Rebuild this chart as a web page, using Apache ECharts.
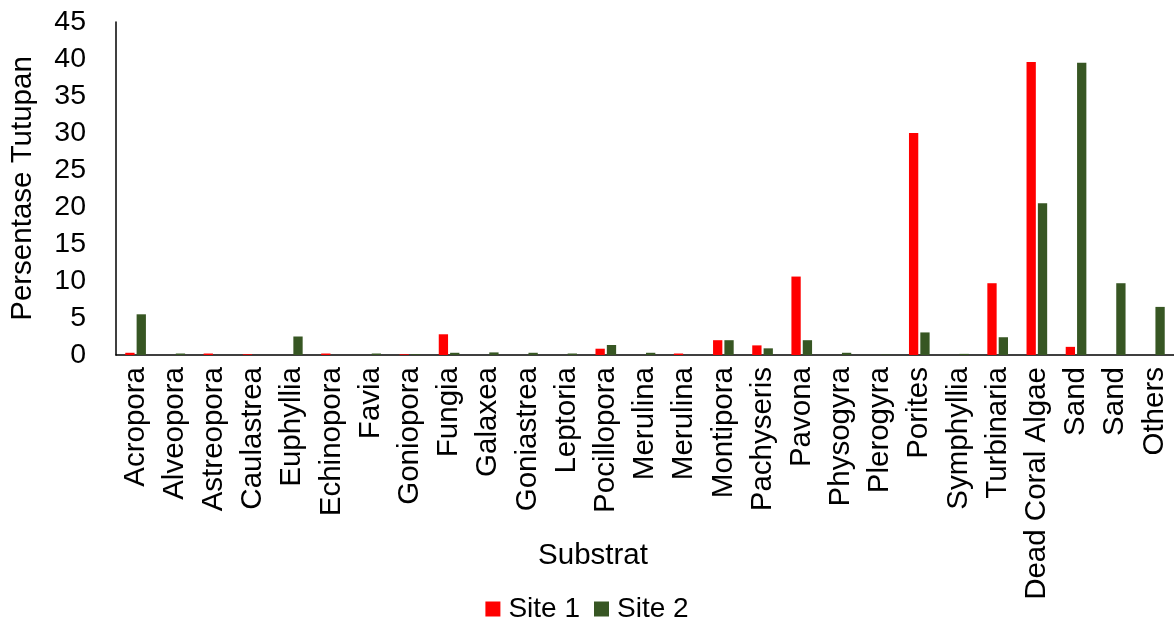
<!DOCTYPE html>
<html>
<head>
<meta charset="utf-8">
<script src="https://cdn.jsdelivr.net/npm/echarts@6/dist/echarts.min.js"></script>
<style>
  html, body { margin: 0; padding: 0; background: #fff; }
  #chart { width: 1174px; height: 619px; }
</style>
</head>
<body>
<div id="chart"></div>
<script>
// Substrate categories along the x axis
const categories = ['Acropora', 'Alveopora', 'Astreopora', 'Caulastrea', 'Euphyllia', 'Echinopora',
  'Favia', 'Goniopora', 'Fungia', 'Galaxea', 'Goniastrea', 'Leptoria', 'Pocillopora', 'Merulina',
  'Merulina', 'Montipora', 'Pachyseris', 'Pavona', 'Physogyra', 'Plerogyra', 'Porites', 'Symphyllia',
  'Turbinaria', 'Dead Coral Algae', 'Sand', 'Sand', 'Others'];

// Percent cover per substrate
const site1 = [0.3, 0, 0.2, 0.1, 0, 0.2, 0, 0.1, 2.8, 0, 0, 0, 0.85, 0, 0.2, 2.0, 1.3, 10.6, 0, 0,
  30, 0, 9.7, 39.6, 1.1, 0, 0];
const site2 = [5.5, 0.2, 0, 0, 2.5, 0, 0.2, 0.1, 0.3, 0.35, 0.3, 0.2, 1.35, 0.3, 0, 2.0, 0.9, 2.0, 0.3,
  0.05, 3.05, 0.15, 2.4, 20.5, 39.5, 9.7, 6.5];

const seriesNames = ['Site 1', 'Site 2'];
const yTicks = { min: 0, max: 45, step: 5 };

const font = 'Liberation Sans, Arial, sans-serif';
const fontSize = 29.5;
const textColor = '#000';

const chart = echarts.init(document.getElementById('chart'), null, { renderer: 'canvas' });

chart.setOption({
  animation: false,
  backgroundColor: '#fff',
  textStyle: { fontFamily: font },
  title: {
    text: 'Substrat',
    left: 588,
    top: 536,
    textAlign: 'center',
    textStyle: { fontFamily: font, fontSize: fontSize, fontWeight: 'normal', color: textColor }
  },
  legend: {
    data: seriesNames,
    left: 'center',
    top: 590,
    itemWidth: 15,
    itemHeight: 15,
    itemGap: 14,
    icon: 'rect',
    textStyle: { fontFamily: font, fontSize: 28, color: textColor, padding: [0, 0, 0, 3] }
  },
  grid: {
    left: 115,
    right: -4,
    top: 22,
    bottom: 264,
    containLabel: false
  },
  xAxis: {
    type: 'category',
    data: categories,
    axisLine: { show: true, lineStyle: { color: '#000', width: 1.5 } },
    axisTick: { show: false },
    axisLabel: {
      interval: 0,
      rotate: 90,
      margin: 12,
      fontFamily: font,
      fontSize: fontSize,
      color: textColor
    }
  },
  yAxis: {
    type: 'value',
    min: yTicks.min,
    max: yTicks.max,
    interval: yTicks.step,
    name: 'Persentase Tutupan',
    nameLocation: 'middle',
    nameGap: 78,
    nameTextStyle: { fontFamily: font, fontSize: fontSize, color: textColor },
    splitLine: { show: false },
    axisLine: { show: true, lineStyle: { color: '#000', width: 1.5 } },
    axisTick: { show: false },
    axisLabel: {
      margin: 30,
      fontFamily: font,
      fontSize: 28.5,
      color: textColor
    }
  },
  series: [
    {
      name: seriesNames[0],
      type: 'bar',
      data: site1,
      barWidth: 9.3,
      barGap: '22%',
      itemStyle: { color: '#FF0000' }
    },
    {
      name: seriesNames[1],
      type: 'bar',
      data: site2,
      barWidth: 9.3,
      barGap: '22%',
      itemStyle: { color: '#375623' }
    }
  ]
});
</script>
</body>
</html>
